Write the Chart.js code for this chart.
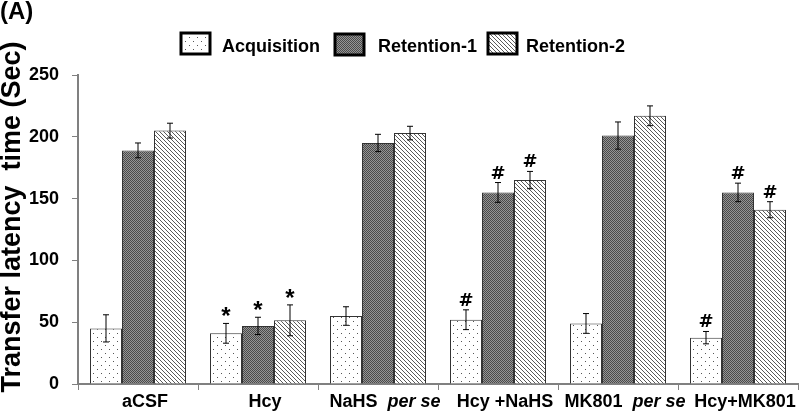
<!DOCTYPE html>
<html>
<head>
<meta charset="utf-8">
<script src="https://cdn.jsdelivr.net/npm/chart.js@4.4.0/dist/chart.umd.min.js"></script>
<style>
  html, body { margin: 0; padding: 0; background: #fff; }
  #wrap { width: 800px; height: 413px; position: relative; }
</style>
</head>
<body>
<div id="wrap"><canvas id="latencyChart"></canvas></div>
<script>
// Data
const categories = ['aCSF', 'Hcy', 'NaHS  per se', 'Hcy +NaHS', 'MK801  per se', 'Hcy+MK801'];
const seriesNames = ['Acquisition', 'Retention-1', 'Retention-2'];

const acquisition = [45, 41, 55, 52, 49, 37.5];
const acquisitionErr = [11, 8, 7.5, 8, 8, 5];
const acquisitionMarks = ['', '*', '', '#', '', '#'];

const retention1 = [189, 47, 195, 155, 201, 155];
const retention1Err = [6, 7, 7, 8, 11, 7.5];
const retention1Marks = ['', '*', '', '#', '', '#'];

const retention2 = [205, 51.5, 203, 165, 217, 141];
const retention2Err = [6, 12.5, 5.5, 7, 8, 6.5];
const retention2Marks = ['', '*', '', '#', '', '#'];

const yTicks = [0, 50, 100, 150, 200, 250];

const FONT = '"Liberation Sans", Arial, sans-serif';

// Fill patterns
function makePattern(kind) {
    const c = document.createElement('canvas');
    const ctx = c.getContext('2d');
    if (kind === 'dots') {
        c.width = 8; c.height = 8;
        ctx.fillStyle = '#ffffff';
        ctx.fillRect(0, 0, 8, 8);
        ctx.fillStyle = '#555555';
        ctx.fillRect(1, 1, 1, 1);
        ctx.fillRect(5, 5, 1, 1);
    } else if (kind === 'checker') {
        c.width = 2; c.height = 2;
        ctx.fillStyle = '#959595';
        ctx.fillRect(0, 0, 2, 2);
        ctx.fillStyle = '#4a4a4a';
        ctx.fillRect(0, 0, 1, 1);
        ctx.fillRect(1, 1, 1, 1);
    } else {
        c.width = 4; c.height = 4;
        ctx.fillStyle = '#ffffff';
        ctx.fillRect(0, 0, 4, 4);
        ctx.fillStyle = '#5a5a5a';
        for (let k = 0; k < 4; k++) {
            ctx.fillRect(k, k, 1, 1);
        }
    }
    return ctx.createPattern(c, 'repeat');
}

const fills = [makePattern('dots'), makePattern('checker'), makePattern('stripes')];
const errors = [acquisitionErr, retention1Err, retention2Err];
const marks = [acquisitionMarks, retention1Marks, retention2Marks];

// Error bars, significance marks, legend, titles and x labels
const decorations = {
    id: 'decorations',
    afterDatasetsDraw(chart) {
        const ctx = chart.ctx;
        const y = chart.scales.y;
        ctx.save();
        chart.data.datasets.forEach((ds, di) => {
            const meta = chart.getDatasetMeta(di);
            meta.data.forEach((bar, i) => {
                const v = ds.data[i];
                const e = errors[di][i];
                const top = y.getPixelForValue(v + e);
                const bot = y.getPixelForValue(v - e);
                ctx.strokeStyle = '#000';
                ctx.lineWidth = 1;
                ctx.beginPath();
                ctx.moveTo(bar.x, top); ctx.lineTo(bar.x, bot);
                ctx.moveTo(bar.x - 3, top); ctx.lineTo(bar.x + 3, top);
                ctx.moveTo(bar.x - 3, bot); ctx.lineTo(bar.x + 3, bot);
                ctx.stroke();
                const m = marks[di][i];
                if (m) {
                    ctx.fillStyle = '#000';
                    ctx.textAlign = 'center';
                    ctx.textBaseline = 'alphabetic';
                    if (m === '*') {
                        ctx.font = 'bold 24px ' + FONT;
                        ctx.fillText(m, bar.x, top + 1);
                    } else {
                        ctx.font = 'bold 18px "DejaVu Sans", sans-serif';
                        ctx.fillText(m, bar.x, top - 4);
                    }
                }
            });
        });
        ctx.restore();
    },
    afterDraw(chart) {
        const ctx = chart.ctx;
        const x = chart.scales.x;
        ctx.save();
        ctx.fillStyle = '#000';

        // panel letter
        ctx.font = 'bold 24px ' + FONT;
        ctx.textAlign = 'left';
        ctx.textBaseline = 'top';
        ctx.fillText('(A)', 0, 0);

        // y axis title
        ctx.save();
        ctx.translate(13, 217);
        ctx.rotate(-Math.PI / 2);
        ctx.font = 'bold 27px ' + FONT;
        ctx.textAlign = 'center';
        ctx.textBaseline = 'middle';
        ctx.fillText('Transfer latency  time (Sec)', 0, 0);
        ctx.restore();

        // x labels, "per se" in italics
        ctx.textBaseline = 'middle';
        ctx.textAlign = 'left';
        categories.forEach((label, i) => {
            const cx = x.getPixelForValue(i) + 7;
            const parts = label.split('per se');
            const segs = [[parts[0], false]];
            if (parts.length > 1) segs.push(['per se', true]);
            let w = 0;
            segs.forEach(s => {
                ctx.font = (s[1] ? 'italic ' : '') + 'bold 18px ' + FONT;
                w += ctx.measureText(s[0]).width;
            });
            let px = cx - w / 2;
            segs.forEach(s => {
                ctx.font = (s[1] ? 'italic ' : '') + 'bold 18px ' + FONT;
                ctx.fillText(s[0], px, 402);
                px += ctx.measureText(s[0]).width;
            });
        });

        // legend
        const boxes = [[181, 33], [335, 34], [488, 33]];
        const texts = [222, 378, 526];
        seriesNames.forEach((name, i) => {
            const [bx, by] = boxes[i];
            ctx.fillStyle = fills[i];
            ctx.fillRect(bx, by, 29, 21);
            ctx.strokeStyle = '#000';
            ctx.lineWidth = 3;
            ctx.strokeRect(bx, by, 29, 21);
            ctx.fillStyle = '#000';
            ctx.font = 'bold 18px ' + FONT;
            ctx.textBaseline = 'middle';
            ctx.fillText(name, texts[i], 47);
        });
        ctx.restore();
    }
};

const chart = new Chart(document.getElementById('latencyChart'), {
    type: 'bar',
    data: {
        labels: categories,
        datasets: [
            { label: seriesNames[0], data: acquisition, backgroundColor: fills[0], borderColor: '#333', borderWidth: 1 },
            { label: seriesNames[1], data: retention1, backgroundColor: fills[1], borderColor: '#333', borderWidth: 1 },
            { label: seriesNames[2], data: retention2, backgroundColor: fills[2], borderColor: '#333', borderWidth: 1 }
        ]
    },
    options: {
        responsive: true,
        maintainAspectRatio: false,
        animation: false,
        layout: { padding: { top: 75, right: 2, left: 0, bottom: 0 } },
        datasets: { bar: { categoryPercentage: 0.8, barPercentage: 1.0 } },
        plugins: { legend: { display: false }, tooltip: { enabled: false } },
        scales: {
            x: {
                grid: { display: true, drawOnChartArea: false, drawTicks: true, tickLength: 6, color: '#808080', offset: true },
                border: { color: '#808080', width: 2 },
                ticks: { color: 'rgba(0,0,0,0)', font: { size: 17 } },
                afterFit(scale) { scale.height = 29; }
            },
            y: {
                min: 0,
                max: 250,
                afterBuildTicks(scale) { scale.ticks = yTicks.map(v => ({ value: v })); },
                grid: { display: true, drawOnChartArea: false, drawTicks: true, tickLength: 6, color: '#808080' },
                border: { color: '#808080', width: 2 },
                ticks: { color: '#000', font: { size: 18, weight: 'bold', family: FONT }, padding: 13 },
                afterFit(scale) { scale.width = 78; }
            }
        }
    },
    plugins: [decorations]
});
</script>
</body>
</html>
